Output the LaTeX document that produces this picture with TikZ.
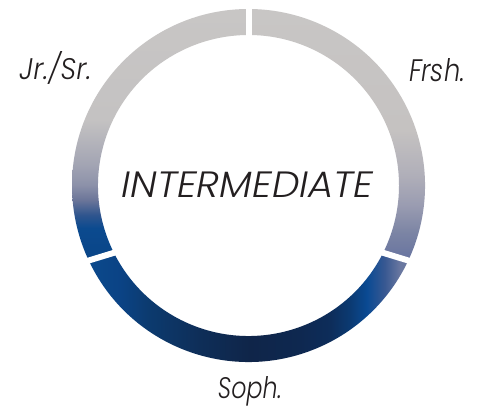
\documentclass[tikz,border=0pt]{standalone}
\usepackage{fontspec}
\usepackage{graphicx}
\newfontfamily\labfont{Poppins Light Italic}
\definecolor{txt}{HTML}{231F20}
% left segment
\definecolor{La}{HTML}{0A4587}
\definecolor{Lb}{HTML}{0B4A8F}
\definecolor{Lc}{HTML}{2F558E}
\definecolor{Ld}{HTML}{6B7599}
\definecolor{Le}{HTML}{8C91A9}
\definecolor{Lf}{HTML}{A2A4B3}
\definecolor{Lg}{HTML}{C4C2C2}
\definecolor{Lh}{HTML}{C8C6C5}
% right segment
\definecolor{Ra}{HTML}{6874A0}
\definecolor{Rb}{HTML}{7B84A4}
\definecolor{Rc}{HTML}{9A9CB1}
\definecolor{Rd}{HTML}{B0AFB9}
\definecolor{Re}{HTML}{C5C2C1}
\definecolor{Rf}{HTML}{C8C6C5}
% bottom segment
\definecolor{Ba}{HTML}{0B4A8D}
\definecolor{Bb}{HTML}{0B4385}
\definecolor{Bc}{HTML}{0C3A6E}
\definecolor{Bd}{HTML}{0E2E58}
\definecolor{Be}{HTML}{0F2549}
\definecolor{Bf}{HTML}{0E2850}
\definecolor{Bg}{HTML}{0D2D5A}
\definecolor{Bh}{HTML}{0B3A72}
\definecolor{Bi}{HTML}{0A4A93}
\definecolor{Bj}{HTML}{3A5992}
\definecolor{Bk}{HTML}{6A78A0}
\pgfdeclareverticalshading{leftshade}{100bp}{color(0bp)=(La); color(25bp)=(La); color(31.2bp)=(Lb); color(33.8bp)=(Lc); color(36.8bp)=(Ld); color(39.8bp)=(Le); color(43.8bp)=(Lf); color(52.8bp)=(Lg); color(75bp)=(Lh); color(100bp)=(Lh)}
\pgfdeclareverticalshading{rightshade}{100bp}{color(0bp)=(Ra); color(25bp)=(Ra); color(30.2bp)=(Rb); color(35.8bp)=(Rc); color(41.8bp)=(Rd); color(50.8bp)=(Re); color(75bp)=(Rf); color(100bp)=(Rf)}
\pgfdeclarehorizontalshading{bottomshade}{100bp}{color(0bp)=(Ba); color(25bp)=(Ba); color(30.4bp)=(Bb); color(34.9bp)=(Bc); color(42.6bp)=(Bd); color(50.2bp)=(Be); color(57.9bp)=(Bf); color(62.5bp)=(Bg); color(65.5bp)=(Bh); color(68.1bp)=(Bi); color(70.9bp)=(Bj); color(73.2bp)=(Bk); color(100bp)=(Bk)}
\newcommand\ringseg[2]{(#1:176.5pt) arc[start angle=#1, end angle=#2, radius=176.5pt] -- (#2:150.5pt) arc[start angle=#2, end angle=#1, radius=150.5pt] -- cycle}
\begin{document}
\begin{tikzpicture}[x=1pt,y=1pt,
  lab/.style={inner sep=0pt, outer sep=0pt, text=txt, font=\labfont, anchor=base},
  gapline/.style={white, line width=6pt}]
\useasboundingbox (0,0) rectangle (481,408);
\fill[white] (0,0) rectangle (481,408);
\begin{scope}[shift={(248.5,222.5)}]
  \begin{scope}
    \clip \ringseg{90}{205.8};
    \shade[shading=leftshade] (-190,-73.5) rectangle (190,176.5);
  \end{scope}
  \begin{scope}
    \clip \ringseg{-25.8}{90};
    \shade[shading=rightshade] (-190,-73.5) rectangle (190,176.5);
  \end{scope}
  \begin{scope}
    \clip \ringseg{205.8}{334.2};
    \shade[shading=bottomshade] (-163.5,-190) rectangle (163.5,-50);
  \end{scope}
  \coordinate (gT) at (90:163.5pt);
  \coordinate (gL) at (205.8:163.5pt);
  \coordinate (gR) at (-25.8:163.5pt);
  \draw[gapline] ([shift={(0,-25)}]gT) -- ([shift={(0,25)}]gT);
  \draw[gapline] ([shift={(17:30pt)}]gL) -- ([shift={(197:30pt)}]gL);
  \draw[gapline] ([shift={(163:30pt)}]gR) -- ([shift={(-17:30pt)}]gR);
\end{scope}
\node[lab] (int) at (247.5,210.7) {\resizebox{252pt}{25.6pt}{INTERMEDIATE}};
\node[lab] (jr) at (55.5,328.5) {\resizebox{72pt}{28pt}{Jr./Sr.}};
\node[lab] (fr) at (437,327) {\resizebox{56pt}{23pt}{Frsh.}};
\node[lab] (so) at (250,9.7) {\resizebox{64pt}{22pt}{Soph.}};
\end{tikzpicture}
\end{document}
